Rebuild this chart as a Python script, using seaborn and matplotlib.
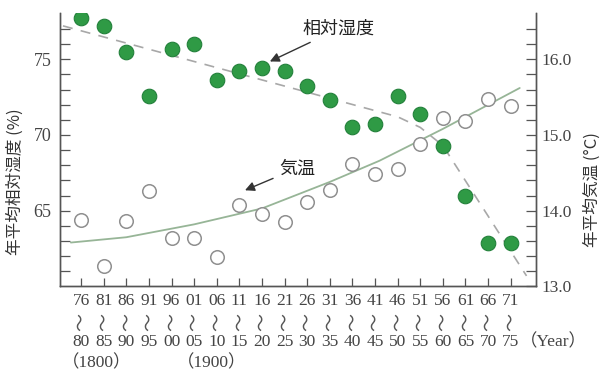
import numpy as np
import pandas as pd
import matplotlib
matplotlib.use("Agg")
import matplotlib.pyplot as plt
import seaborn as sns

# Five-year periods (start / end year, two digits)
period_start = ["76", "81", "86", "91", "96", "01", "06", "11", "16", "21",
                "26", "31", "36", "41", "46", "51", "56", "61", "66", "71"]
period_end = ["80", "85", "90", "95", "00", "05", "10", "15", "20", "25",
              "30", "35", "40", "45", "50", "55", "60", "65", "70", "75"]

# Mean relative humidity (%) per period
humidity = [77.7, 77.2, 75.5, 72.6, 75.7, 76.0, 73.6, 74.2, 74.4, 74.2,
            73.2, 72.3, 70.5, 70.7, 72.6, 71.4, 69.3, 66.0, 62.9, 62.9]

# Mean air temperature (°C) per period
temperature = [13.88, 13.27, 13.87, 14.26, 13.64, 13.64, 13.39, 14.08, 13.96, 13.85,
               14.12, 14.27, 14.62, 14.49, 14.55, 14.88, 15.23, 15.18, 15.48, 15.38]

# Hand-drawn trend lines (period position, value)
humid_trend_pos = [-0.8, 14.0, 15.0, 16.0, 19.7]
humid_trend_val = [77.2, 71.2, 70.5, 69.3, 60.7]
temp_trend_pos = [-0.45, 2.0, 5.0, 8.0, 11.0, 13.2, 16.0, 19.4]
temp_trend_val = [13.58, 13.65, 13.82, 14.03, 14.38, 14.66, 15.08, 15.62]

sns.set_theme(style="white")
plt.rcParams["font.family"] = ["Liberation Serif", "DejaVu Serif"]
JP = ["Noto Sans CJK JP", "DejaVu Sans"]
SERIF = ["Liberation Serif", "Noto Sans CJK JP", "DejaVu Serif"]

pos = np.arange(len(period_start))
df = pd.DataFrame({"pos": pos, "humidity": humidity, "temperature": temperature})

fig = plt.figure(figsize=(6.02, 3.71), dpi=100)
ax = fig.add_axes([0.0997, 0.2278, 0.7907, 0.7372])
ax2 = ax.twinx()

GREEN = "#2f9a45"
GREEN_EDGE = "#22803a"
CIRCLE = "#8f8f8f"
TLINE = "#97b597"
DASH = "#a8a8a8"
LABEL = "#444444"

# humidity trend (dashed) and points
sns.lineplot(x=humid_trend_pos, y=humid_trend_val, ax=ax, color=DASH,
             linewidth=1.2, linestyle=(0, (6, 5)), zorder=2)
sns.scatterplot(data=df, x="pos", y="humidity", ax=ax, color=GREEN,
                edgecolor=GREEN_EDGE, linewidth=0.8, s=110, zorder=4)

# temperature trend (solid) and points
sns.lineplot(x=temp_trend_pos, y=temp_trend_val, ax=ax2, color=TLINE,
             linewidth=1.3, zorder=2)
sns.scatterplot(data=df, x="pos", y="temperature", ax=ax2, facecolor="white",
                edgecolor=CIRCLE, linewidth=1.1, s=95, zorder=4)

ax.set_xlim(-0.93, 20.12)
ax.set_ylim(60, 78.05)
ax2.set_ylim(13.0, 16.61)

ax.set_xlabel("")
ax.set_ylabel("")
ax2.set_ylabel("")

# axis spines
for a in (ax, ax2):
    a.spines["top"].set_visible(False)
    for s in ("left", "right", "bottom"):
        a.spines[s].set_color("#555555")
        a.spines[s].set_linewidth(1.0)
    a.grid(False)

# left axis ticks
ax.set_yticks([65, 70, 75])
ax.set_yticks(np.arange(61, 78, 1), minor=True)
ax.tick_params(axis="y", which="both", direction="in", length=7, width=0.9,
               color="#555555", labelsize=13, labelcolor=LABEL, pad=6,
               left=True)
for lab in ax.get_yticklabels():
    lab.set_family(SERIF)

# right axis ticks
ax2.set_yticks([13.0, 14.0, 15.0, 16.0])
ax2.set_yticklabels(["13.0", "14.0", "15.0", "16.0"])
ax2.set_yticks(np.arange(13.2, 16.5, 0.2), minor=True)
ax2.tick_params(axis="y", which="both", direction="in", length=7, width=0.9,
                color="#555555", labelsize=12.5, labelcolor=LABEL, pad=4,
                right=True)
for lab in ax2.get_yticklabels():
    lab.set_family(SERIF)

# bottom ticks: period start years, then a wave mark and the end years below
ax.set_xticks(pos)
ax.set_xticklabels(period_start)
ax.tick_params(axis="x", direction="in", length=6, width=0.9, color="#555555",
               labelsize=12.5, labelcolor=LABEL, pad=5, bottom=True)
for lab in ax.get_xticklabels():
    lab.set_family(SERIF)

xt = ax.get_xaxis_transform()
for p, end in zip(pos, period_end):
    ax.text(p, -0.129, "〜", transform=xt, rotation=90, ha="center",
            va="center", fontsize=13, color="#555555", family=JP)
    ax.text(p, -0.202, end, transform=xt, ha="center", va="center",
            fontsize=12.5, color=LABEL, family=SERIF)

# century marks and unit
ax.text(0.69, -0.28, "（1800）", transform=xt, ha="center", va="center",
        fontsize=12.5, color=LABEL, family=SERIF)
ax.text(5.78, -0.28, "（1900）", transform=xt, ha="center", va="center",
        fontsize=12.5, color=LABEL, family=SERIF)
ax.text(20.9, -0.202, "（Year）", transform=xt, ha="center", va="center",
        fontsize=12.5, color=LABEL, family=SERIF, clip_on=False)

# axis titles
fig.text(0.026, 1 - 182 / 371, "年平均相対湿度 (%)", rotation=90, ha="center",
         va="center", fontsize=12, color="#333333", family=JP)
fig.text(0.983, 1 - 190 / 371, "年平均気温 (°C)", rotation=90, ha="center",
         va="center", fontsize=12, color="#333333", family=JP)

# series annotations
ax.annotate("相対湿度", xy=(8.35, 74.85), xytext=(9.8, 77.0),
            fontsize=13, color="#222222", family=JP, ha="left", va="center",
            arrowprops=dict(arrowstyle="-|>", color="#333333", lw=1.0,
                            mutation_scale=14, shrinkA=2, shrinkB=0))
ax2.annotate("気温", xy=(7.25, 14.27), xytext=(8.75, 14.56),
             fontsize=13, color="#222222", family=JP, ha="left", va="center",
             arrowprops=dict(arrowstyle="-|>", color="#333333", lw=1.0,
                             mutation_scale=14, shrinkA=2, shrinkB=0))

fig.savefig("out.png", dpi=100, facecolor="white")
